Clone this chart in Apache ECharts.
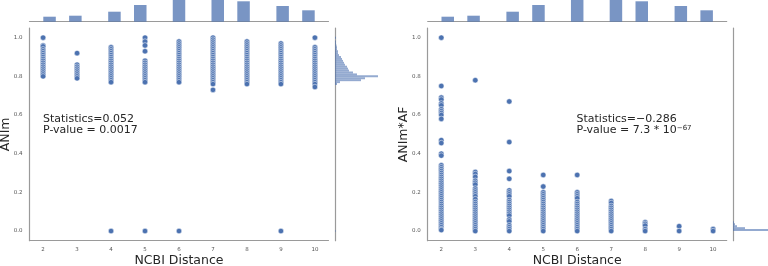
<!DOCTYPE html>
<html>
<head>
<meta charset="utf-8">
<script src="https://cdn.jsdelivr.net/npm/echarts@6/dist/echarts.min.js"></script>
<style>
  html, body { margin: 0; padding: 0; background: #fff; }
  #chart { width: 768px; height: 266px; }
</style>
</head>
<body>
<div id="chart"></div>
<script>
// tick labels
const xTicks = [2, 3, 4, 5, 6, 7, 8, 9, 10]
const yTicks = [0, 0.2, 0.4, 0.6, 0.8, 1.0]

// ANIm by NCBI distance (left panel)
const anim2 = [1.0, 0.96, 0.955, 0.94, 0.93, 0.92, 0.91, 0.9, 0.89, 0.88, 0.87, 0.86, 0.85, 0.84, 0.83, 0.82, 0.81, 0.8]
const anim3 = [0.92, 0.86, 0.85, 0.84, 0.83, 0.82, 0.81, 0.8, 0.79]
const anim4 = [0.95, 0.94, 0.93, 0.92, 0.91, 0.9, 0.89, 0.88, 0.87, 0.86, 0.85, 0.84, 0.83, 0.82, 0.81, 0.8, 0.79, 0.78, 0.77, 0.0]
const anim5 = [1.0, 0.98, 0.96, 0.93, 0.88, 0.87, 0.86, 0.85, 0.84, 0.83, 0.82, 0.81, 0.8, 0.79, 0.78, 0.77, 0.0]
const anim6 = [0.98, 0.97, 0.96, 0.95, 0.94, 0.93, 0.92, 0.91, 0.9, 0.89, 0.88, 0.87, 0.86, 0.85, 0.84, 0.83, 0.82, 0.81, 0.8, 0.79, 0.78, 0.77, 0.0]
const anim7 = [1.0, 0.99, 0.98, 0.97, 0.96, 0.95, 0.94, 0.93, 0.92, 0.91, 0.9, 0.89, 0.88, 0.87, 0.86, 0.85, 0.84, 0.83, 0.82, 0.81, 0.8, 0.79, 0.78, 0.77, 0.76, 0.73]
const anim8 = [0.98, 0.97, 0.96, 0.95, 0.94, 0.93, 0.92, 0.91, 0.9, 0.89, 0.88, 0.87, 0.86, 0.85, 0.84, 0.83, 0.82, 0.81, 0.8, 0.79, 0.78, 0.77, 0.76]
const anim9 = [0.97, 0.96, 0.95, 0.94, 0.93, 0.92, 0.91, 0.9, 0.89, 0.88, 0.87, 0.86, 0.85, 0.84, 0.83, 0.82, 0.81, 0.8, 0.79, 0.78, 0.77, 0.76, 0.0]
const anim10 = [1.0, 0.95, 0.94, 0.93, 0.92, 0.91, 0.9, 0.89, 0.88, 0.87, 0.86, 0.85, 0.84, 0.83, 0.82, 0.81, 0.8, 0.79, 0.78, 0.77, 0.76, 0.745]

// ANIm*AF by NCBI distance (right panel)
const animaf2 = [1.0, 0.75, 0.69, 0.68, 0.66, 0.65, 0.63, 0.62, 0.61, 0.6, 0.58, 0.47, 0.455, 0.4, 0.39, 0.34, 0.33, 0.32, 0.31, 0.3, 0.29, 0.28, 0.27, 0.26, 0.25, 0.24, 0.23, 0.22, 0.21, 0.2, 0.19, 0.18, 0.17, 0.16, 0.15, 0.14, 0.13, 0.12, 0.11, 0.1, 0.09, 0.08, 0.07, 0.06, 0.05, 0.04, 0.03, 0.02, 0.01, 0.005]
const animaf3 = [0.78, 0.305, 0.295, 0.28, 0.26, 0.25, 0.24, 0.22, 0.21, 0.2, 0.19, 0.18, 0.165, 0.15, 0.14, 0.13, 0.12, 0.11, 0.1, 0.09, 0.08, 0.07, 0.06, 0.05, 0.04, 0.03, 0.02, 0.01, 0.0]
const animaf4 = [0.67, 0.46, 0.31, 0.27, 0.21, 0.2, 0.19, 0.18, 0.16, 0.15, 0.14, 0.13, 0.12, 0.11, 0.1, 0.09, 0.08, 0.06, 0.05, 0.03, 0.02, 0.01, 0.0]
const animaf5 = [0.29, 0.23, 0.2, 0.19, 0.18, 0.17, 0.16, 0.15, 0.14, 0.13, 0.12, 0.11, 0.1, 0.09, 0.08, 0.07, 0.06, 0.05, 0.04, 0.03, 0.02, 0.01, 0.0]
const animaf6 = [0.29, 0.2, 0.19, 0.18, 0.17, 0.15, 0.14, 0.13, 0.12, 0.11, 0.1, 0.09, 0.08, 0.07, 0.06, 0.05, 0.04, 0.03, 0.02, 0.01, 0.0]
const animaf7 = [0.155, 0.145, 0.13, 0.12, 0.11, 0.1, 0.09, 0.08, 0.07, 0.06, 0.05, 0.04, 0.03, 0.02, 0.01, 0.0]
const animaf8 = [0.045, 0.037, 0.028, 0.01, 0.0]
const animaf9 = [0.025, 0.0]
const animaf10 = [0.01, 0.0]

// top marginal histogram (bin centres on the distance axis, heights)
const histCenters = [2.19, 2.95, 4.1, 4.86, 6.0, 7.14, 7.9, 9.05, 9.81]
const histCounts = [5, 6, 10, 16.7, 24, 23.5, 20.4, 15.7, 11.4]

// right marginal histograms (bin centres on the value axis, lengths)
const margLeftBins = [0.0, 0.76, 0.77, 0.78, 0.79, 0.8, 0.81, 0.82, 0.83, 0.84, 0.85, 0.86, 0.87, 0.88, 0.89, 0.9, 0.91, 0.92, 0.93, 0.94, 0.95, 0.96, 0.97, 0.98, 1.0]
const margLeftCounts = [0.6, 2, 5, 26, 30, 43, 22, 18, 14, 13, 12, 10, 9, 8, 7, 6, 4, 3, 3, 2, 2, 1.5, 1, 1, 1]
const margRightBins = [0.005, 0.015, 0.025, 0.035, 0.045]
const margRightCounts = [200, 12, 4, 2, 1]

const binH = 0.01
const dotColor = '#4c72b0'
const histColor = 'rgba(76,114,176,0.75)'
const spine = '#9a9a9a'
const font = 'DejaVu Sans'

const byDist = (cols) => {
  const pts = []
  cols.forEach((vals, i) => vals.forEach((v) => pts.push([xTicks[i], v])))
  return pts
}

const leftPts = byDist([anim2, anim3, anim4, anim5, anim6, anim7, anim8, anim9, anim10])
const rightPts = byDist([animaf2, animaf3, animaf4, animaf5, animaf6, animaf7, animaf8, animaf9, animaf10])

const mainX = (grid, showName) => ({
  gridIndex: grid,
  type: 'value',
  min: 1.6,
  max: 10.4,
  splitLine: { show: false },
  axisTick: { show: false },
  axisLine: { show: true, onZero: false, lineStyle: { color: spine, width: 1.2 } },
  axisLabel: {
    show: showName,
    customValues: xTicks,
    fontSize: 5.5,
    color: '#555',
    fontFamily: font,
    margin: 6,
  },
  name: showName ? 'NCBI Distance' : '',
  nameLocation: 'middle',
  nameGap: 14,
  nameMoveOverlap: false,
  nameTextStyle: { fontSize: 12.5, color: '#262626', fontFamily: font },
})

const mainY = (grid, name) => ({
  gridIndex: grid,
  type: 'value',
  min: -0.05,
  max: 1.05,
  splitLine: { show: false },
  axisTick: { show: false },
  axisLine: { show: true, onZero: false, lineStyle: { color: spine, width: 1.2 } },
  axisLabel: {
    customValues: yTicks,
    formatter: (v) => v.toFixed(1),
    fontSize: 5.5,
    color: '#555',
    fontFamily: font,
    margin: 7,
  },
  name: name,
  nameLocation: 'middle',
  nameRotate: 90,
  nameGap: 17,
  nameMoveOverlap: false,
  nameTextStyle: { fontSize: 12.5, color: '#262626', fontFamily: font },
})

const hiddenValue = (grid, min, max) => ({
  gridIndex: grid,
  type: 'value',
  min: min,
  max: max,
  show: false,
})

const sideY = (grid) => ({
  gridIndex: grid,
  type: 'value',
  min: -0.05,
  max: 1.05,
  splitLine: { show: false },
  axisTick: { show: false },
  axisLabel: { show: false },
  axisLine: { show: true, onZero: false, lineStyle: { color: spine, width: 1.2 } },
})

const sideHist = (xi, yi, bins, counts) => ({
  type: 'custom',
  xAxisIndex: xi,
  yAxisIndex: yi,
  data: bins.map((b, i) => [counts[i], b]),
  renderItem: (params, api) => {
    const len = api.value(0)
    const y = api.value(1)
    const p1 = api.coord([0, y + binH / 2])
    const p2 = api.coord([len, y - binH / 2])
    const cs = params.coordSys
    const shape = echarts.graphic.clipRectByRect(
      { x: p1[0], y: p1[1], width: p2[0] - p1[0], height: p2[1] - p1[1] },
      { x: cs.x, y: cs.y, width: cs.width, height: cs.height }
    )
    return shape && { type: 'rect', shape: shape, style: { fill: 'rgba(76,114,176,0.6)' } }
  },
})

const statText = (x, y, l1, l2) => ({
  type: 'text',
  left: x,
  top: y,
  style: {
    text: l1 + '\n' + l2,
    font: '11px "DejaVu Sans"',
    fill: '#262626',
    lineHeight: 11.5,
    rich: {
      t: { fontSize: 11, fontFamily: font, color: '#262626', lineHeight: 11.5 },
      sup: { fontSize: 7, fontFamily: font, color: '#262626', verticalAlign: 'top', lineHeight: 11.5 },
    },
  },
})

const gridBox = (left, top, width, height) => ({
  left: left,
  top: top,
  width: width,
  height: height,
  containLabel: false,
  outerBoundsMode: 'none',
})

const chart = echarts.init(document.getElementById('chart'))
chart.setOption({
  animation: false,
  backgroundColor: '#fff',
  grid: [
    gridBox(29.5, 28, 299, 212.7),
    gridBox(29.5, 0, 299, 21.7),
    gridBox(335, 28, 45, 212.7),
    gridBox(427.7, 28, 299, 212.7),
    gridBox(427.7, 0, 299, 21.7),
    gridBox(733, 28, 45, 212.7),
  ],
  xAxis: [
    mainX(0, true),
    Object.assign(mainX(1, false), { axisLabel: { show: false } }),
    hiddenValue(2, 0, 45),
    mainX(3, true),
    Object.assign(mainX(4, false), { axisLabel: { show: false } }),
    hiddenValue(5, 0, 45),
  ],
  yAxis: [
    mainY(0, 'ANIm'),
    hiddenValue(1, 0, 21.7),
    sideY(2),
    mainY(3, 'ANIm*AF'),
    hiddenValue(4, 0, 21.7),
    sideY(5),
  ],
  series: [
    {
      type: 'scatter',
      xAxisIndex: 0,
      yAxisIndex: 0,
      data: leftPts,
      symbolSize: 5.5,
      itemStyle: { color: dotColor, borderColor: '#fff', borderWidth: 0.5, opacity: 1 },
    },
    {
      type: 'bar',
      xAxisIndex: 1,
      yAxisIndex: 1,
      data: histCenters.map((c, i) => [c, histCounts[i]]),
      barWidth: 12.5,
      itemStyle: { color: histColor },
    },
    sideHist(2, 2, margLeftBins, margLeftCounts),
    {
      type: 'scatter',
      xAxisIndex: 3,
      yAxisIndex: 3,
      data: rightPts,
      symbolSize: 5.5,
      itemStyle: { color: dotColor, borderColor: '#fff', borderWidth: 0.5, opacity: 1 },
    },
    {
      type: 'bar',
      xAxisIndex: 4,
      yAxisIndex: 4,
      data: histCenters.map((c, i) => [c, histCounts[i]]),
      barWidth: 12.5,
      itemStyle: { color: histColor },
    },
    sideHist(5, 5, margRightBins, margRightCounts),
  ],
  graphic: [
    statText(43, 113, '{t|Statistics=0.052}', '{t|P-value = 0.0017}'),
    statText(576.5, 113, '{t|Statistics=−0.286}', '{t|P-value = 7.3 * 10}{sup|−67}'),
  ],
})
</script>
</body>
</html>
